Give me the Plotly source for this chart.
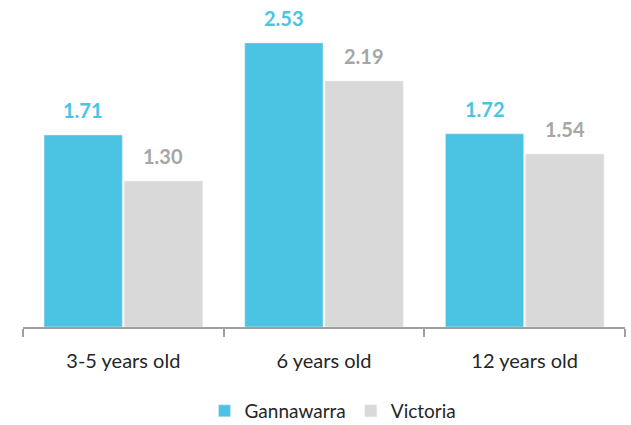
import plotly.graph_objects as go

categories = ["3-5 years old", "6 years old", "12 years old"]
gannawarra = [1.71, 2.53, 1.72]
victoria = [1.30, 2.19, 1.54]
series_names = ["Gannawarra", "Victoria"]

c_g = "#4BC4E3"
c_v = "#D9D9D9"
lbl_g = "#4BC4E3"
lbl_v = "#A6A6A6"

fig = go.Figure()
fig.add_trace(go.Bar(x=categories, y=gannawarra, name=series_names[0], marker_color=c_g))
fig.add_trace(go.Bar(x=categories, y=victoria, name=series_names[1], marker_color=c_v))

annotations = []
for i, c in enumerate(categories):
    annotations.append(dict(x=c, y=gannawarra[i], xref="x", yref="y", text=f"<b>{gannawarra[i]:.2f}</b>",
                            showarrow=False, yshift=25, xshift=-40, font=dict(color=lbl_g, size=20, family="Lato")))
    annotations.append(dict(x=c, y=victoria[i], xref="x", yref="y", text=f"<b>{victoria[i]:.2f}</b>",
                            showarrow=False, yshift=25, xshift=40, font=dict(color=lbl_v, size=20, family="Lato")))

fig.update_layout(
    width=631, height=425,
    margin=dict(l=23, r=6, t=10, b=98, autoexpand=False),
    paper_bgcolor="white", plot_bgcolor="white",
    barmode="group", bargap=0.2, bargroupgap=0.025,
    font=dict(family="Lato", color="#262626"),
    showlegend=True,
    legend=dict(orientation="h", x=0.515, xanchor="center", y=-0.205, yanchor="top",
                font=dict(size=19, color="#262626"), itemwidth=30, traceorder="normal"),
    annotations=annotations,
)
fig.update_xaxes(showline=True, linecolor="#A0A0A0", linewidth=2, ticks="outside",
                 tickson="boundaries", ticklen=8, tickwidth=2, tickcolor="#A0A0A0",
                 tickfont=dict(size=20, color="#262626"), showgrid=False,
                 automargin=False, ticklabelstandoff=15)
fig.update_yaxes(range=[0, 2.823], visible=False, showgrid=False, automargin=False)

fig.write_html("out.html", config={"displayModeBar": False},
               post_script="document.body.style.margin='0';document.body.style.overflow='hidden';")
